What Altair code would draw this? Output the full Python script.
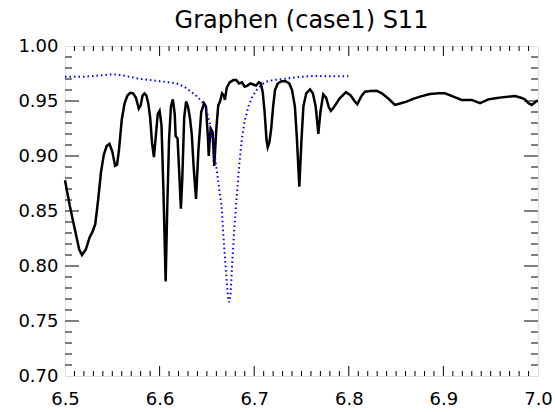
import altair as alt
import pandas as pd

# ---- data ----
black_x = [6.500, 6.505, 6.510, 6.515, 6.518, 6.522, 6.526, 6.529, 6.532, 6.535,
           6.538, 6.541, 6.544, 6.547, 6.550, 6.553, 6.555, 6.557, 6.560, 6.563,
           6.566, 6.569, 6.572, 6.575, 6.578, 6.580, 6.582, 6.584, 6.586, 6.588,
           6.590, 6.592, 6.594, 6.596, 6.598, 6.600, 6.602, 6.604, 6.6064, 6.608,
           6.610, 6.612, 6.614, 6.616, 6.617, 6.619, 6.621, 6.6225, 6.624, 6.626,
           6.628, 6.630, 6.632, 6.634, 6.636, 6.6385, 6.641, 6.644, 6.647, 6.649,
           6.651, 6.652, 6.653, 6.654, 6.656, 6.6578, 6.660, 6.662, 6.664, 6.666,
           6.668, 6.669, 6.671, 6.674, 6.678, 6.681, 6.684, 6.687, 6.690, 6.693,
           6.696, 6.699, 6.702, 6.705, 6.707, 6.709, 6.711, 6.713, 6.7143, 6.716,
           6.718, 6.720, 6.722, 6.725, 6.729, 6.733, 6.737, 6.740, 6.743, 6.745,
           6.7477, 6.750, 6.752, 6.755, 6.759, 6.762, 6.765, 6.7678, 6.770, 6.773,
           6.776, 6.779, 6.781, 6.784, 6.790, 6.797, 6.802, 6.806, 6.809, 6.813,
           6.817, 6.823, 6.8295, 6.835, 6.842, 6.8488, 6.855, 6.861, 6.868, 6.8753,
           6.8858, 6.895, 6.9017, 6.9105, 6.9193, 6.925, 6.930, 6.9387, 6.9475, 6.955,
           6.9616, 6.9757, 6.982, 6.986, 6.990, 6.9933, 6.9986, 7.000]
black_y = [0.878, 0.855, 0.835, 0.815, 0.810, 0.815, 0.826, 0.831, 0.838, 0.860,
           0.885, 0.901, 0.909, 0.911, 0.904, 0.891, 0.892, 0.905, 0.933, 0.948,
           0.955, 0.9575, 0.957, 0.953, 0.943, 0.946, 0.955, 0.957, 0.955, 0.948,
           0.935, 0.912, 0.899, 0.918, 0.938, 0.941, 0.928, 0.870, 0.786, 0.850,
           0.915, 0.945, 0.9515, 0.938, 0.918, 0.916, 0.880, 0.852, 0.880, 0.935,
           0.9495, 0.945, 0.935, 0.920, 0.890, 0.861, 0.905, 0.940, 0.948, 0.945,
           0.918, 0.900, 0.915, 0.925, 0.922, 0.891, 0.925, 0.946, 0.950, 0.957,
           0.955, 0.951, 0.962, 0.967, 0.969, 0.969, 0.966, 0.967, 0.963, 0.964,
           0.966, 0.965, 0.964, 0.967, 0.966, 0.958, 0.940, 0.915, 0.908, 0.912,
           0.925, 0.945, 0.960, 0.966, 0.968, 0.968, 0.966, 0.960, 0.945, 0.918,
           0.872, 0.915, 0.945, 0.957, 0.9605, 0.957, 0.945, 0.920, 0.940, 0.956,
           0.953, 0.944, 0.941, 0.944, 0.952, 0.958, 0.955, 0.950, 0.947, 0.954,
           0.9585, 0.959, 0.9594, 0.957, 0.952, 0.9464, 0.948, 0.9494, 0.952, 0.954,
           0.9564, 0.957, 0.957, 0.954, 0.951, 0.951, 0.951, 0.948, 0.9515, 0.9525,
           0.9533, 0.9545, 0.953, 0.9515, 0.948, 0.9464, 0.950, 0.950]

blue_x = [6.500, 6.520, 6.540, 6.550, 6.560, 6.580, 6.600, 6.610, 6.618, 6.626,
          6.634, 6.640, 6.646, 6.650, 6.653, 6.656, 6.660, 6.663, 6.6656, 6.667,
          6.669, 6.671, 6.6725, 6.6735, 6.675, 6.6772, 6.679, 6.6815, 6.684, 6.6868,
          6.690, 6.6938, 6.698, 6.7026, 6.708, 6.713, 6.720, 6.727, 6.740, 6.750,
          6.7625, 6.780, 6.7995]
blue_y = [0.972, 0.972, 0.9735, 0.9743, 0.9735, 0.970, 0.968, 0.967, 0.966, 0.963,
          0.958, 0.954, 0.948, 0.940, 0.930, 0.915, 0.890, 0.870, 0.854, 0.833,
          0.8085, 0.785, 0.770, 0.767, 0.775, 0.8085, 0.835, 0.863, 0.890, 0.9145,
          0.932, 0.9448, 0.954, 0.960, 0.965, 0.9676, 0.969, 0.9697, 0.971, 0.972,
          0.9727, 0.9725, 0.9725]

x_labels = [6.5, 6.6, 6.7, 6.8, 6.9, 7.0]
y_labels = [0.70, 0.75, 0.80, 0.85, 0.90, 0.95, 1.00]

# tick positions (IDL-style inward ticks)
x_major = x_labels[1:-1]
x_minor = [round(6.5 + i * 0.01, 2) for i in range(1, 50) if i % 10 != 0]
y_major = y_labels[1:-1]
y_minor = [round(0.70 + i * 0.01, 2) for i in range(1, 30) if i % 5 != 0]

W, H = 473, 330
FONT = "DejaVu Sans"

xs = alt.Scale(domain=[6.5, 7.0], nice=False, zero=False)
ys = alt.Scale(domain=[0.70, 1.00], nice=False, zero=False)

x_axis = alt.Axis(values=x_labels, format=".1f", ticks=False, domain=False,
                  grid=False, labelFont=FONT, labelFontSize=18,
                  labelColor="black", labelPadding=14, labelFlush=False)
y_axis = alt.Axis(values=y_labels, format=".2f", ticks=False, domain=False,
                  grid=False, labelFont=FONT, labelFontSize=18,
                  labelColor="black", labelPadding=7, labelFlush=False)


def X(field):
    return alt.X(field, scale=xs, title=None, axis=x_axis)


def Y(field):
    return alt.Y(field, scale=ys, title=None, axis=y_axis)


black = pd.DataFrame({"x": black_x, "y": black_y})
blue = pd.DataFrame({"x": blue_x, "y": blue_y})

line_black = alt.Chart(black).mark_line(color="black", strokeWidth=2.5).encode(
    x=X("x:Q"), y=Y("y:Q"))

line_blue = alt.Chart(blue).mark_line(color="#0000ff", strokeWidth=2,
                                      strokeDash=[1.5, 3]).encode(
    x=X("x:Q"), y=Y("y:Q"))


def xticks(vals, length):
    df = pd.DataFrame({"x": vals})
    bottom = alt.Chart(df).mark_rule(color="black", strokeWidth=1).encode(
        x=X("x:Q"), y=alt.value(H), y2=alt.value(H - length))
    top = alt.Chart(df).mark_rule(color="black", strokeWidth=1).encode(
        x=X("x:Q"), y=alt.value(0), y2=alt.value(length))
    return [bottom, top]


def yticks(vals, length):
    df = pd.DataFrame({"y": vals})
    left = alt.Chart(df).mark_rule(color="black", strokeWidth=1).encode(
        y=Y("y:Q"), x=alt.value(0), x2=alt.value(length))
    right = alt.Chart(df).mark_rule(color="black", strokeWidth=1).encode(
        y=Y("y:Q"), x=alt.value(W), x2=alt.value(W - length))
    return [left, right]


layers = ([line_black, line_blue]
          + xticks(x_major, 10) + xticks(x_minor, 5)
          + yticks(y_major, 14) + yticks(y_minor, 7))

chart = alt.layer(*layers).properties(
    width=W, height=H,
    autosize="none",
    padding={"left": 65, "top": 46, "right": 17, "bottom": 36},
    title=alt.TitleParams("Graphen (case1) S11", font=FONT, fontSize=24,
                          fontWeight="normal", color="black", anchor="middle",
                          offset=4),
).configure_view(stroke="black", strokeWidth=1.5).configure(background="white")

chart.save("out.html", embed_options={"renderer": "svg", "actions": False})
